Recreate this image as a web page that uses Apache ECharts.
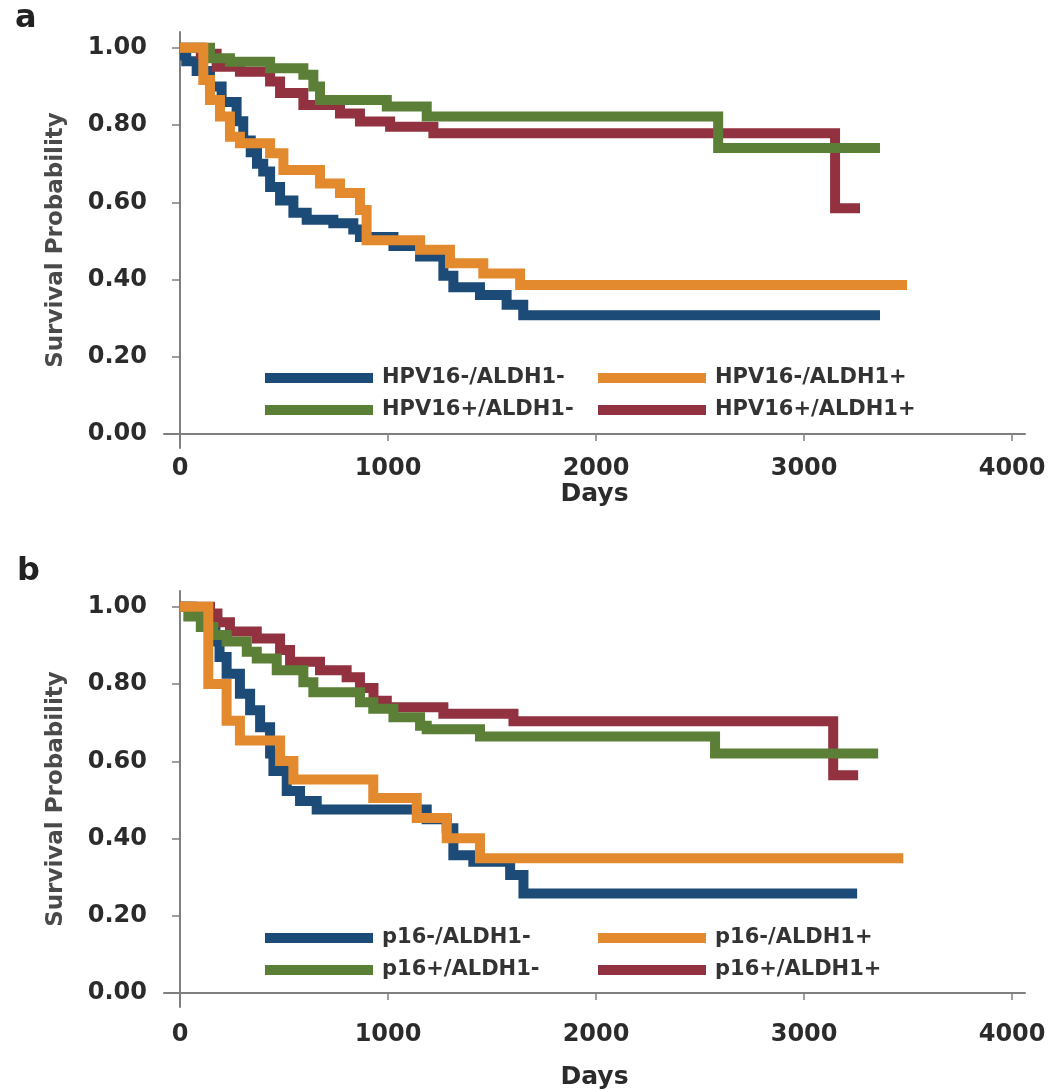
<!DOCTYPE html>
<html>
<head>
<meta charset="utf-8">
<script src="https://cdn.jsdelivr.net/npm/echarts@6/dist/echarts.min.js"></script>
<style>
html,body{margin:0;padding:0;background:#fff;}
#chart{width:1048px;height:1090px;}
</style>
</head>
<body>
<div id="chart"></div>
<script>
// ---- tick labels ----
const dayTicks = [0, 1000, 2000, 3000, 4000];
const probTicks = [0, 0.2, 0.4, 0.6, 0.8, 1.0];

// ---- panel a : HPV16 / ALDH1 ----
const topNames = ['HPV16-/ALDH1-', 'HPV16-/ALDH1+', 'HPV16+/ALDH1-', 'HPV16+/ALDH1+'];
const topNegNeg = [[0,0.98],[30,0.965],[80,0.94],[144,0.90],[200,0.86],[272,0.81],[304,0.76],[340,0.73],[370,0.70],[400,0.68],[433,0.64],[481,0.605],[545,0.573],[609,0.555],[737,0.546],[833,0.53],[865,0.51],[1026,0.487],[1154,0.46],[1266,0.41],[1314,0.38],[1442,0.36],[1570,0.335],[1650,0.308],[3365,0.308]];
const topNegPos = [[0,1.0],[112,0.917],[144,0.865],[192,0.822],[240,0.77],[288,0.753],[433,0.727],[497,0.684],[673,0.649],[769,0.624],[865,0.58],[897,0.502],[1154,0.477],[1298,0.442],[1458,0.416],[1635,0.386],[3495,0.386]];
const topPosNeg = [[0,1.0],[144,0.973],[240,0.964],[433,0.947],[593,0.93],[641,0.90],[673,0.865],[994,0.848],[1186,0.822],[2587,0.741],[3365,0.741]];
const topPosPos = [[0,1.0],[100,0.985],[176,0.951],[288,0.938],[433,0.913],[481,0.883],[593,0.852],[769,0.83],[865,0.809],[1010,0.796],[1218,0.779],[3149,0.585],[3269,0.585]];

// ---- panel b : p16 / ALDH1 ----
const botNames = ['p16-/ALDH1-', 'p16-/ALDH1+', 'p16+/ALDH1-', 'p16+/ALDH1+'];
const botNegNeg = [[0,1.0],[60,0.98],[120,0.95],[170,0.91],[190,0.87],[224,0.827],[288,0.775],[337,0.732],[385,0.688],[433,0.62],[449,0.575],[513,0.523],[577,0.497],[657,0.475],[1186,0.45],[1282,0.427],[1314,0.357],[1410,0.34],[1587,0.306],[1651,0.258],[3255,0.258]];
const botNegPos = [[0,1.0],[136,0.80],[224,0.705],[288,0.654],[481,0.601],[545,0.553],[929,0.505],[1138,0.453],[1282,0.401],[1442,0.349],[3477,0.349]];
const botPosNeg = [[0,1.0],[40,0.975],[100,0.948],[160,0.927],[224,0.91],[321,0.884],[369,0.866],[465,0.836],[593,0.805],[641,0.779],[865,0.753],[929,0.736],[1026,0.714],[1154,0.692],[1186,0.683],[1442,0.664],[2572,0.62],[3356,0.62]];
const botPosPos = [[0,1.0],[144,0.983],[180,0.96],[240,0.936],[369,0.918],[481,0.888],[529,0.858],[673,0.836],[801,0.818],[865,0.79],[930,0.757],[994,0.74],[1266,0.723],[1603,0.704],[3140,0.564],[3260,0.564]];

const colors = ['#1c4b78', '#e38a2e', '#5b7f36', '#923240'];

const FONT = 'DejaVu Sans';
const chart = echarts.init(document.getElementById('chart'), null, {renderer: 'canvas'});

function xAxisCfg(gridIndex, labelMargin, nameGap) {
  return {
    type: 'value', gridIndex: gridIndex, min: -77, max: 4062,
    name: 'Days', nameLocation: 'middle', nameGap: nameGap,
    nameTextStyle: {fontFamily: FONT, fontWeight: 'bold', fontSize: 25, color: '#2b2b2b'},
    axisLine: {show: true, lineStyle: {color: '#7f7f7f', width: 2}},
    axisTick: {show: true, length: 7, lineStyle: {color: '#7f7f7f', width: 1.5}, customValues: dayTicks},
    axisLabel: {customValues: dayTicks, margin: labelMargin, fontFamily: FONT, fontWeight: 'bold', fontSize: 24, color: '#2b2b2b',
      formatter: function (v) { return String(Math.round(v)); }},
    splitLine: {show: false}
  };
}
function yAxisCfg(gridIndex) {
  return {
    type: 'value', gridIndex: gridIndex, min: -0.036, max: 1.041,
    name: 'Survival Probability', nameLocation: 'middle', nameGap: 96, nameRotate: 90,
    nameTextStyle: {fontFamily: FONT, fontWeight: 'bold', fontSize: 23, color: '#4a4a4a'},
    axisLine: {show: true, lineStyle: {color: '#7f7f7f', width: 2}},
    axisTick: {show: true, length: 8, lineStyle: {color: '#7f7f7f', width: 1.5}, customValues: probTicks},
    axisLabel: {customValues: probTicks, margin: 17, fontFamily: FONT, fontWeight: 'bold', fontSize: 24, color: '#2b2b2b',
      formatter: function (v) { return v.toFixed(2); }},
    splitLine: {show: false}
  };
}
function line(name, data, color, idx) {
  return {
    type: 'line', name: name, data: data, step: 'end', xAxisIndex: idx, yAxisIndex: idx,
    showSymbol: false, symbol: 'none', color: color,
    lineStyle: {width: 10, color: color, cap: 'butt', join: 'miter'},
    itemStyle: {color: color}, animation: false, silent: true
  };
}
function legend(name, left, top) {
  return {
    data: [name], left: left, top: top, padding: 0, icon: 'rect',
    itemWidth: 108, itemHeight: 10,
    textStyle: {fontFamily: FONT, fontWeight: 'bold', fontSize: 21, lineHeight: 22, color: '#333', padding: [0, 0, 0, 4]}
  };
}

const option = {
  backgroundColor: '#ffffff',
  animation: false,
  grid: [
    {left: 164, top: 32, width: 861, height: 416, outerBoundsMode: 'none'},
    {left: 164, top: 591, width: 861, height: 416, outerBoundsMode: 'none'}
  ],
  xAxis: [xAxisCfg(0, 9, 32), xAxisCfg(1, 16, 58)],
  yAxis: [yAxisCfg(0), yAxisCfg(1)],
  legend: [
    legend(topNames[0], 265, 367), legend(topNames[1], 598, 367),
    legend(topNames[2], 265, 399), legend(topNames[3], 598, 399),
    legend(botNames[0], 265, 927), legend(botNames[1], 598, 927),
    legend(botNames[2], 265, 959), legend(botNames[3], 598, 959)
  ],
  graphic: [
    {type: 'text', left: 15, top: 3, style: {text: 'a', font: 'bold 32px "DejaVu Sans"', fill: '#222'}},
    {type: 'text', left: 17, top: 556, style: {text: 'b', font: 'bold 32px "DejaVu Sans"', fill: '#222'}}
  ],
  series: [
    line(topNames[0], topNegNeg, colors[0], 0),
    line(topNames[3], topPosPos, colors[3], 0),
    line(topNames[2], topPosNeg, colors[2], 0),
    line(topNames[1], topNegPos, colors[1], 0),
    line(botNames[0], botNegNeg, colors[0], 1),
    line(botNames[3], botPosPos, colors[3], 1),
    line(botNames[2], botPosNeg, colors[2], 1),
    line(botNames[1], botNegPos, colors[1], 1)
  ]
};
chart.setOption(option);
</script>
</body>
</html>
